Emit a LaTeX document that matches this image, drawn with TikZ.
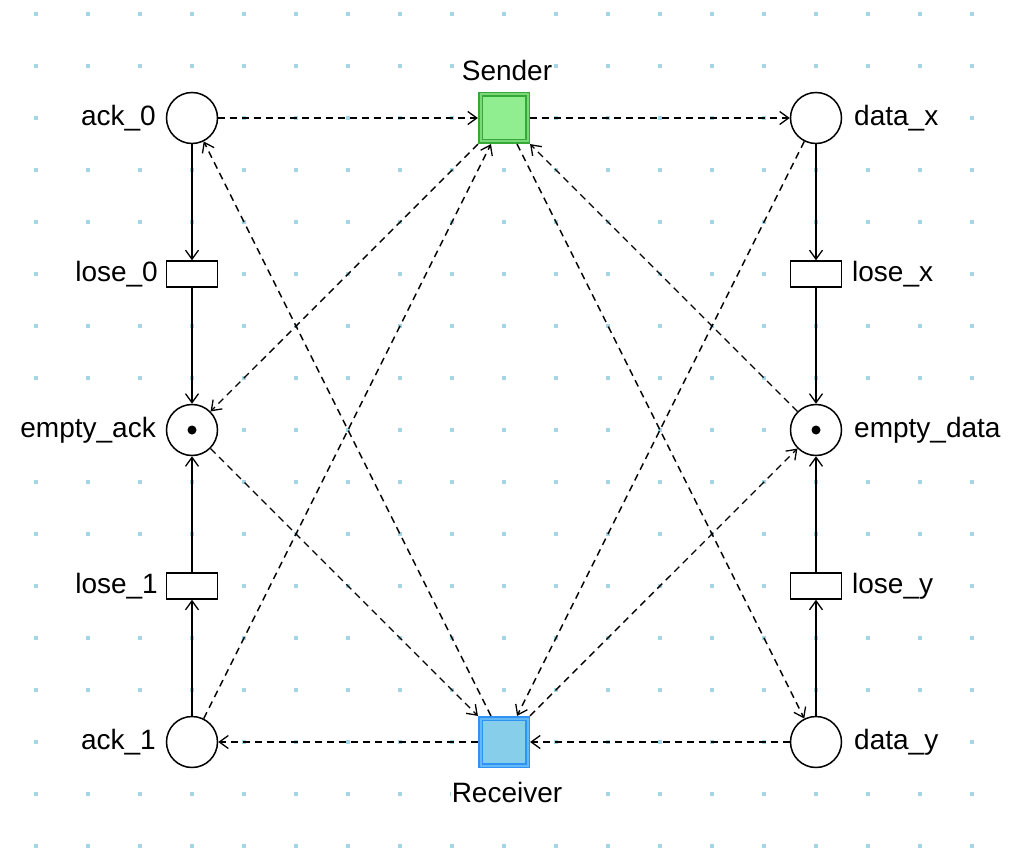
\documentclass[tikz,border=0pt]{standalone}
\usepackage{fontspec}
\setmainfont{Liberation Sans}
\usetikzlibrary{arrows.meta}
\definecolor{griddot}{HTML}{A6D6E6}
\definecolor{sendfill}{HTML}{90EE90}
\definecolor{sendline}{HTML}{35A835}
\definecolor{sendmid}{HTML}{7AD87A}
\definecolor{recvfill}{HTML}{87CEEB}
\definecolor{recvline}{HTML}{2F93F5}
\definecolor{recvmid}{HTML}{66B8F5}
\begin{document}
\begin{tikzpicture}[x=1pt,y=-1pt,
  every node/.style={font=\fontsize{28}{32}\selectfont},
  place/.style={circle,draw,line width=1.5pt,fill=white,minimum size=51pt,inner sep=0pt},
  trans/.style={rectangle,draw,line width=1.5pt,fill=white,minimum width=51pt,minimum height=26pt,inner sep=0pt},
  actor/.style={rectangle,line width=1.6pt,double distance=2pt,minimum size=47pt,inner sep=0pt,outer sep=2.6pt},
  lbl/.style={fill=white,inner sep=1pt},
  tip/.style={-{Straight Barb[length=9pt,width=13pt,line width=1.3pt]}},
  arc/.style={tip,line width=1.4pt},
  darc/.style={tip,line width=1.4pt,dash pattern=on 7pt off 5pt},
]
\useasboundingbox (0,0) rectangle (1018,853);
\fill[white] (0,0) rectangle (1018,853);
% grid dots
\foreach \gx in {36,88,...,980} {
  \foreach \gy in {14,66,...,850} {
    \fill[griddot] (\gx-1.6,\gy-1.6) rectangle (\gx+1.6,\gy+1.6);
  }
}
% places
\node[place] (ack0) at (192,118) {};
\node[place] (eack) at (192,430) {};
\node[place] (ack1) at (192,742) {};
\node[place] (datax) at (816,118) {};
\node[place] (edata) at (816,430) {};
\node[place] (datay) at (816,742) {};
\fill (eack.center) circle (4.5pt);
\fill (edata.center) circle (4.5pt);
% transitions
\node[trans] (lose0) at (192,274) {};
\node[trans] (lose1) at (192,586) {};
\node[trans] (losex) at (816,274) {};
\node[trans] (losey) at (816,586) {};
\node[actor,draw=sendline,double=sendmid,fill=sendfill] (sender) at (504,118) {};
\node[actor,draw=recvline,double=recvmid,fill=recvfill] (receiver) at (504,742) {};
% labels
\node[lbl,anchor=east] (ack0l) at (157,118) {ack\_0};
\node[lbl,anchor=east] (eackl) at (157,430) {empty\_ack};
\node[lbl,anchor=east] (ack1l) at (157,742) {ack\_1};
\node[lbl,anchor=east] (lose0l) at (159,274) {lose\_0};
\node[lbl,anchor=east] (lose1l) at (159,586) {lose\_1};
\node[lbl,anchor=west] (dataxl) at (853,118) {data\_x};
\node[lbl,anchor=west] (edatal) at (853,430) {empty\_data};
\node[lbl,anchor=west] (datayl) at (853,742) {data\_y};
\node[lbl,anchor=west] (losexl) at (851,274) {lose\_x};
\node[lbl,anchor=west] (loseyl) at (851,586) {lose\_y};
\node[lbl] (senderl) at (507,70) {Sender};
\node[lbl] (receiverl) at (507,792) {Receiver};
% solid arcs
\draw[arc] (ack0) -- (lose0);
\draw[arc] (lose0) -- (eack);
\draw[arc] (ack1) -- (lose1);
\draw[arc] (lose1) -- (eack);
\draw[arc] (datax) -- (losex);
\draw[arc] (losex) -- (edata);
\draw[arc] (datay) -- (losey);
\draw[arc] (losey) -- (edata);
% dashed arcs
\draw[darc] (ack0) -- (sender);
\draw[darc] (sender) -- (datax);
\draw[darc] (receiver) -- (ack1);
\draw[darc] (datay) -- (receiver);
\draw[darc] (sender) -- (eack);
\draw[darc] (receiver) -- (ack0);
\draw[darc] (ack1) -- (sender);
\draw[darc] (sender) -- (datay);
\draw[darc] (edata) -- (sender);
\draw[darc] (datax) -- (receiver);
\draw[darc] (receiver) -- (edata);
\draw[darc] (eack) -- (receiver);
\end{tikzpicture}
\end{document}
